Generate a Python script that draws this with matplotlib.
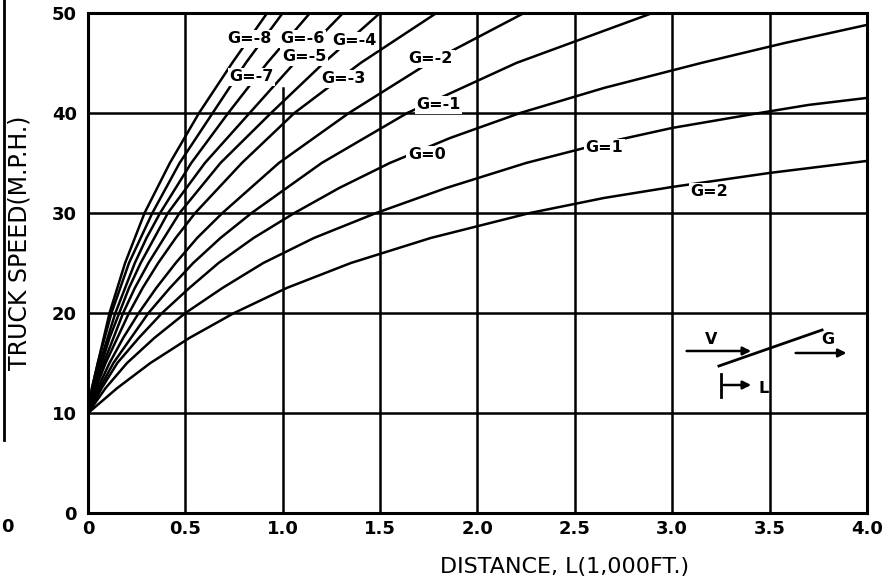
import numpy as np
import matplotlib
matplotlib.use("Agg")
from matplotlib import pyplot as plt

speed_levels = [10, 12.5, 15, 17.5, 20, 22.5, 25, 27.5, 30, 35, 40, 45, 50]

# distance (1,000 ft) where each curve reaches the speed levels above
dist_gm8 = [0, 0.02, 0.05, 0.08, 0.11, 0.15, 0.19, 0.24, 0.29, 0.42, 0.57, 0.74, 0.92]
dist_gm7 = [0, 0.02, 0.05, 0.085, 0.12, 0.165, 0.21, 0.27, 0.33, 0.47, 0.64, 0.81, 1.00]
dist_gm6 = [0, 0.025, 0.06, 0.10, 0.14, 0.19, 0.24, 0.30, 0.37, 0.53, 0.72, 0.92, 1.14]
dist_gm5 = [0, 0.03, 0.07, 0.11, 0.16, 0.21, 0.27, 0.34, 0.41, 0.60, 0.83, 1.06, 1.31]
dist_gm4 = [0, 0.035, 0.08, 0.13, 0.18, 0.24, 0.31, 0.39, 0.47, 0.68, 0.94, 1.21, 1.50]
dist_gm3 = [0, 0.04, 0.09, 0.15, 0.21, 0.28, 0.36, 0.45, 0.55, 0.79, 1.06, 1.40, 1.79]
dist_gm2 = [0, 0.05, 0.11, 0.18, 0.26, 0.35, 0.45, 0.56, 0.69, 0.98, 1.34, 1.75, 2.24]
dist_gm1 = [0, 0.06, 0.13, 0.22, 0.31, 0.42, 0.54, 0.68, 0.84, 1.20, 1.64, 2.20, 2.90]

# flatter grades run off the right edge, so they carry their own speeds
dist_g0 = [0, 0.07, 0.15, 0.26, 0.38, 0.52, 0.67, 0.85, 1.06, 1.29, 1.55, 1.86,
           2.22, 2.65, 3.15, 3.58, 4.0]
speed_g0 = [10, 12.5, 15, 17.5, 20, 22.5, 25, 27.5, 30, 32.5, 35, 37.5,
            40, 42.5, 45, 47, 48.8]
dist_g1 = [0, 0.09, 0.20, 0.34, 0.50, 0.69, 0.90, 1.16, 1.48, 1.84, 2.25, 2.65,
           3.0, 3.45, 3.7, 4.0]
speed_g1 = [10, 12.5, 15, 17.5, 20, 22.5, 25, 27.5, 30, 32.5, 35, 37,
            38.5, 40, 40.8, 41.5]
dist_g2 = [0, 0.15, 0.32, 0.52, 0.75, 1.02, 1.35, 1.76, 2.27, 2.65, 3.0, 3.5, 4.0]
speed_g2 = [10, 12.5, 15, 17.5, 20, 22.5, 25, 27.5, 30, 31.5, 32.6, 34, 35.2]

curves = [
    (dist_gm8, speed_levels), (dist_gm7, speed_levels), (dist_gm6, speed_levels),
    (dist_gm5, speed_levels), (dist_gm4, speed_levels), (dist_gm3, speed_levels),
    (dist_gm2, speed_levels), (dist_gm1, speed_levels),
    (dist_g0, speed_g0), (dist_g1, speed_g1), (dist_g2, speed_g2),
]

# curve labels and where they sit on the chart
grade_labels = ["G=-8", "G=-6", "G=-4", "G=-5", "G=-7", "G=-3",
                "G=-2", "G=-1", "G=0", "G=1", "G=2"]
label_x = [0.83, 1.10, 1.37, 1.11, 0.84, 1.31, 1.76, 1.80, 1.74, 2.65, 3.19]
label_y = [47.4, 47.4, 47.2, 45.6, 43.6, 43.4, 45.4, 40.8, 35.8, 36.5, 32.1]

x_ticks = [0, 0.5, 1.0, 1.5, 2.0, 2.5, 3.0, 3.5, 4.0]
x_ticklabels = ["0", "0.5", "1.0", "1.5", "2.0", "2.5", "3.0", "3.5", "4.0"]
y_ticks = [0, 10, 20, 30, 40, 50]

fig = plt.figure(figsize=(8.9, 5.87), dpi=100)
ax = fig.add_axes([0.099, 0.126, 0.875, 0.852])
ax.set_xlim(0, 4.0)
ax.set_ylim(0, 50)

# grid drawn by hand, the 1.0 line stops short of the label cluster
for xv in x_ticks[1:-1]:
    top = 0.85 if xv == 1.0 else 1.0
    ax.axvline(xv, ymax=top, color="black", lw=1.8, zorder=1)
for yv in y_ticks[1:-1]:
    ax.axhline(yv, color="black", lw=1.8, zorder=1)

for d, s in curves:
    ax.plot(d, s, color="black", lw=1.8, zorder=2, solid_joinstyle="round")

for txt, lx, ly in zip(grade_labels, label_x, label_y):
    ax.text(lx, ly, txt, ha="center", va="center", fontsize=11.5, fontweight="bold",
            zorder=5, bbox=dict(facecolor="white", edgecolor="none", pad=1.2))

# little sketch of the grade in the lower right
arw = dict(arrowstyle="-|>", color="black", lw=1.8, mutation_scale=12)
ax.annotate("", xy=(3.42, 16.2), xytext=(3.06, 16.2), arrowprops=arw, zorder=6)
ax.plot([3.24, 3.77], [14.7, 18.3], color="black", lw=2, zorder=6)
ax.annotate("", xy=(3.91, 16.0), xytext=(3.62, 16.0), arrowprops=arw, zorder=6)
ax.plot([3.25, 3.25], [11.6, 13.9], color="black", lw=2, zorder=6)
ax.annotate("", xy=(3.42, 12.8), xytext=(3.25, 12.8), arrowprops=arw, zorder=6)
ax.text(3.20, 17.3, "V", ha="center", va="center", fontsize=11.5, fontweight="bold")
ax.text(3.80, 17.3, "G", ha="center", va="center", fontsize=11.5, fontweight="bold")
ax.text(3.47, 12.5, "L", ha="center", va="center", fontsize=11.5, fontweight="bold")

for sp in ax.spines.values():
    sp.set_linewidth(2.2)

ax.set_xticks(x_ticks)
ax.set_xticklabels(x_ticklabels)
ax.set_yticks(y_ticks)
ax.tick_params(length=0, labelsize=13, pad=5)
ax.tick_params(axis="y", pad=8)
for t in ax.get_xticklabels() + ax.get_yticklabels():
    t.set_fontweight("bold")

ax.set_xlabel("DISTANCE, L(1,000FT.)", fontsize=16)
ax.set_ylabel("TRUCK SPEED(M.P.H.)", fontsize=17)
ax.xaxis.set_label_coords(0.612, -0.088)
ax.yaxis.set_label_coords(-0.073, 0.54)

# edge of the neighbouring figure in the scan
fig.add_artist(plt.Line2D([0.004, 0.004], [1.0, 0.25], color="black", lw=2))
fig.text(0.008, 0.103, "0", fontsize=13, fontweight="bold", ha="center", va="center")

fig.savefig("out.png", dpi=100, facecolor="white")
